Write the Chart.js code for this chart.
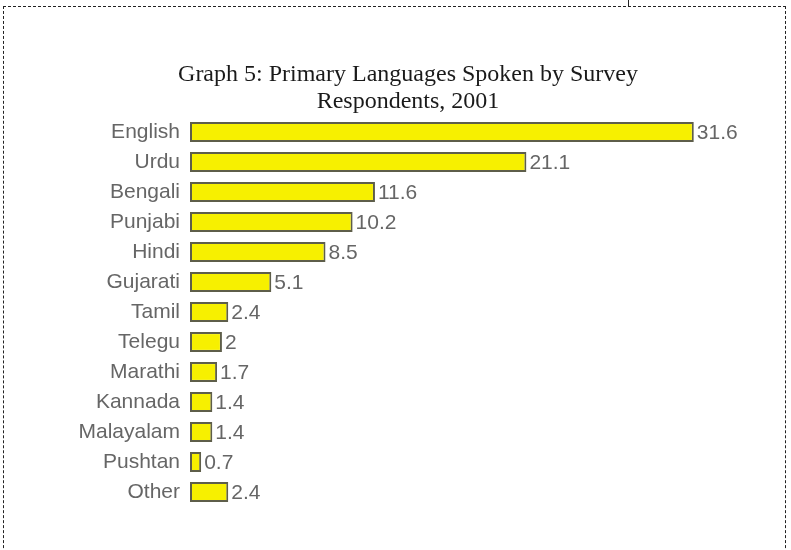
<!DOCTYPE html>
<html>
<head>
<meta charset="utf-8">
<script src="https://cdn.jsdelivr.net/npm/chart.js@4.4.1/dist/chart.umd.min.js"></script>
<style>
  html, body { margin: 0; padding: 0; background: #fff; width: 791px; height: 550px; overflow: hidden; }
  #frame { position: absolute; left: 3px; top: 6px; width: 781px; height: 600px; border: 1px dashed #222; }
  #tab { position: absolute; left: 628px; top: 0; width: 1px; height: 7px; background: #222; }
  #chart { position: absolute; left: 0; top: 0; }
</style>
</head>
<body>
<div id="frame"></div>
<div id="tab"></div>
<canvas id="chart" width="791" height="550"></canvas>
<script>
const languages = ['English', 'Urdu', 'Bengali', 'Punjabi', 'Hindi', 'Gujarati', 'Tamil',
                   'Telegu', 'Marathi', 'Kannada', 'Malayalam', 'Pushtan', 'Other'];
const shares = [31.6, 21.1, 11.6, 10.2, 8.5, 5.1, 2.4, 2, 1.7, 1.4, 1.4, 0.7, 2.4];
const titleLines = ['Graph 5: Primary Languages Spoken by Survey', 'Respondents, 2001'];

// Writes each bar's value just past its end
const valueLabels = {
  id: 'valueLabels',
  afterDatasetsDraw(chart) {
    const ctx = chart.ctx;
    const meta = chart.getDatasetMeta(0);
    ctx.save();
    ctx.font = '21px "Liberation Sans", Arial, sans-serif';
    ctx.fillStyle = '#666666';
    ctx.textAlign = 'left';
    ctx.textBaseline = 'middle';
    meta.data.forEach((bar, i) => {
      ctx.fillText(String(shares[i]), bar.x + 3, bar.y + 1);
    });
    ctx.restore();
  }
};

Chart.defaults.devicePixelRatio = 1;

new Chart(document.getElementById('chart'), {
  type: 'bar',
  data: {
    labels: languages,
    datasets: [{
      data: shares,
      backgroundColor: '#f7f000',
      borderColor: '#5e5e4a',
      borderWidth: 2,
      borderSkipped: false,
      categoryPercentage: 1,
      barPercentage: 0.66
    }]
  },
  options: {
    indexAxis: 'y',
    responsive: false,
    animation: false,
    layout: { padding: { left: 68, right: 43, top: 61, bottom: 43 } },
    plugins: {
      legend: { display: false },
      tooltip: { enabled: false },
      title: {
        display: true,
        text: titleLines,
        color: '#1a1a1a',
        font: { family: '"Liberation Serif", "Times New Roman", serif', size: 24, weight: 'normal', lineHeight: '27px' },
        padding: { top: 0, bottom: 2 }
      }
    },
    scales: {
      x: { display: false, min: 0, max: 35 },
      y: {
        afterFit(scale) { scale.width = 122; },
        grid: { display: false, drawTicks: false },
        border: { display: false },
        ticks: {
          padding: 10,
          color: '#666666',
          font: { family: '"Liberation Sans", Arial, sans-serif', size: 21 }
        }
      }
    }
  },
  plugins: [valueLabels]
});
</script>
</body>
</html>
